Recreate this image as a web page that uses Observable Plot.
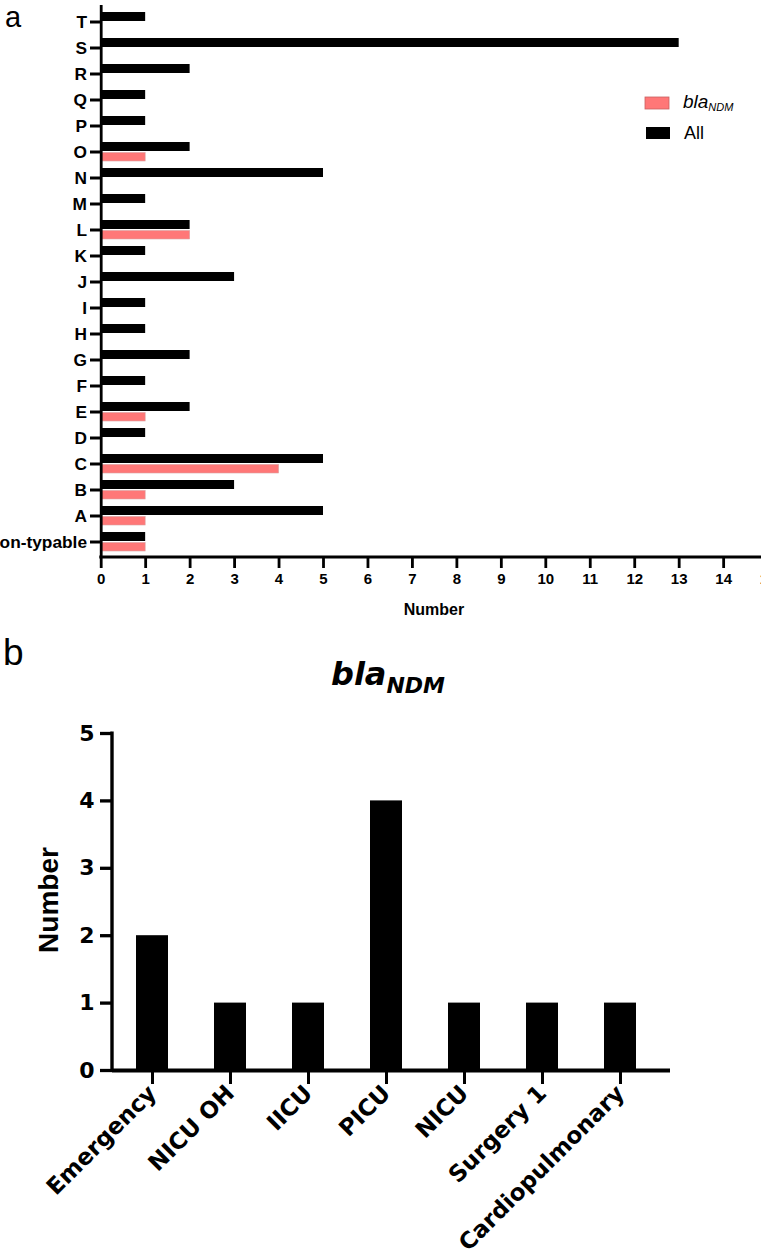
<!DOCTYPE html>
<html>
<head>
<meta charset="utf-8">
<script src="https://cdn.jsdelivr.net/npm/d3@7"></script>
<script src="https://cdn.jsdelivr.net/npm/@observablehq/plot@0.6"></script>
<style>
  html, body { margin: 0; padding: 0; background: #fff; overflow: hidden; }
  body { width: 761px; height: 1254px; position: relative; }
  .abs { position: absolute; left: 0; }
  .abs svg { max-width: none !important; }
  #overlay { position: absolute; left: 0; top: 0; pointer-events: none; }
</style>
</head>
<body>
<div id="chartA" class="abs" style="top:0px;width:790px;"></div>
<div id="chartB" class="abs" style="top:640px;width:761px;"></div>
<svg id="overlay" width="761" height="1254" xmlns="http://www.w3.org/2000/svg"></svg>
<script>
// ---------- Data ----------
const categoriesA = ["T","S","R","Q","P","O","N","M","L","K","J","I","H","G","F","E","D","C","B","A","Non-typable"];
const allCounts   = [1, 13, 2, 1, 1, 2, 5, 1, 2, 1, 3, 1, 1, 2, 1, 2, 1, 5, 3, 5, 1];
const ndmCounts   = [0, 0, 0, 0, 0, 1, 0, 0, 2, 0, 0, 0, 0, 0, 0, 1, 0, 4, 1, 1, 1];
const xTicksA     = [0,1,2,3,4,5,6,7,8,9,10,11,12,13,14,15];

const wards      = ["Emergency","NICU OH","IICU","PICU","NICU","Surgery 1","Cardiopulmonary"];
const wardCounts = [2, 1, 1, 4, 1, 1, 1];
const yTicksB    = [0,1,2,3,4,5];

const seriesNames = ["bla", "All"];
const pink = "#ff7777";

// ---------- Panel a ----------
const rowsAll = categoriesA.map((c, i) => ({cat: c, n: allCounts[i]}));
const rowsNdm = categoriesA.map((c, i) => ({cat: c, n: ndmCounts[i]}));
const sans = '"Liberation Sans", Arial, Helvetica, sans-serif';

const plotA = Plot.plot({
  width: 790, height: 625,
  marginLeft: 100, marginRight: 22, marginTop: 5, marginBottom: 68,
  style: {fontFamily: sans, fontWeight: "bold", color: "#000", background: "transparent", overflow: "visible", maxWidth: "none"},
  x: {domain: [0, 15], range: [100.7, 767.6]},
  y: {domain: categoriesA, paddingInner: 0.278, paddingOuter: 0.139},
  marks: [
    Plot.barX(rowsAll, {x: "n", y: "cat", fill: "#000", insetBottom: 10}),
    Plot.barX(rowsNdm, {x: "n", y: "cat", fill: pink, stroke: "#d9a0a0", strokeWidth: 0.6, insetTop: 10.5}),
    Plot.ruleX([0], {strokeWidth: 2.8}),
    Plot.axisX({ticks: xTicksA, tickFormat: "d", tickSize: 11, tickPadding: 5, strokeWidth: 2.8, fontSize: 15, fontWeight: "bold", label: null}),
    Plot.axisY({tickSize: 10, tickPadding: 3.5, strokeWidth: 3, fontSize: 17.3, fontWeight: "bold", label: null})
  ]
});
plotA.style.maxWidth = "none";
document.getElementById("chartA").appendChild(plotA);
{
  const xs = plotA.scale("x");
  const yBottom = 625 - 68;
  d3.select(plotA).append("line")
    .attr("x1", xs.range[0] - 1.4).attr("x2", 790)
    .attr("y1", yBottom).attr("y2", yBottom)
    .attr("stroke", "#000").attr("stroke-width", 2.8);
}

// ---------- Panel b ----------
const rowsB = wards.map((w, i) => ({ward: w, n: wardCounts[i]}));
const dv = '"DejaVu Sans", Verdana, sans-serif';
const plotB = Plot.plot({
  width: 761, height: 614,
  marginLeft: 112, marginRight: 91, marginTop: 93, marginBottom: 184,
  style: {fontFamily: dv, fontWeight: "bold", color: "#000", background: "transparent", overflow: "visible", maxWidth: "none"},
  x: {domain: wards, range: [112, 661], paddingInner: 0.586, paddingOuter: 0.293},
  y: {domain: [0, 5]},
  marks: [
    Plot.barY(rowsB, {x: "ward", y: "n", fill: "#000"}),
    Plot.ruleY([0], {strokeWidth: 4}),
    Plot.axisY({ticks: yTicksB, tickFormat: "d", tickSize: 12, tickPadding: 6, strokeWidth: 3.3, fontSize: 22, fontWeight: "bold", label: null}),
    Plot.axisX({tickSize: 14, tickPadding: 5, tickRotate: -45, strokeWidth: 3, fontSize: 23, fontWeight: "bold", label: null})
  ]
});
plotB.style.maxWidth = "none";
document.getElementById("chartB").appendChild(plotB);
{
  const ys = plotB.scale("y");
  const yr = ys.range;
  d3.select(plotB).append("line")
    .attr("x1", 112).attr("x2", 112)
    .attr("y1", Math.min(yr[0], yr[1]) - 1.5).attr("y2", Math.max(yr[0], yr[1]) + 2)
    .attr("stroke", "#000").attr("stroke-width", 3.4);
}

// ---------- Annotations: panel letters, legend, titles, axis labels ----------
const ov = d3.select("#overlay");
ov.append("text").attr("x", 5).attr("y", 26.5)
  .attr("font-family", sans).attr("font-size", 29).text("a");

// legend (panel a)
const lg = ov.append("g").attr("font-family", sans);
lg.append("rect").attr("x", 645).attr("y", 97).attr("width", 24).attr("height", 12)
  .attr("fill", pink).attr("stroke", "#c96060").attr("stroke-width", 0.8);
const t1 = lg.append("text").attr("x", 683).attr("y", 108).attr("font-size", 19).attr("font-style", "italic");
t1.append("tspan").text(seriesNames[0]);
t1.append("tspan").attr("font-size", 11).attr("dy", 3).text("NDM");
lg.append("rect").attr("x", 646).attr("y", 127).attr("width", 24).attr("height", 12).attr("fill", "#000");
lg.append("text").attr("x", 684).attr("y", 139).attr("font-size", 18).text(seriesNames[1]);

// x label panel a
ov.append("text").attr("x", 434).attr("y", 615).attr("text-anchor", "middle")
  .attr("font-family", sans).attr("font-weight", "bold").attr("font-size", 16).text("Number");

// panel b letter
ov.append("text").attr("x", 3).attr("y", 665)
  .attr("font-family", sans).attr("font-size", 37).text("b");

// title panel b
const tt = ov.append("text").attr("x", 388).attr("y", 685).attr("text-anchor", "middle")
  .attr("font-family", dv).attr("font-weight", "bold").attr("font-style", "italic");
tt.append("tspan").attr("font-size", 32).text("bla");
tt.append("tspan").attr("font-size", 22).attr("dy", 8).text("NDM");

// y label panel b
ov.append("text").attr("transform", "translate(48,900) rotate(-90)")
  .attr("text-anchor", "middle").attr("dominant-baseline", "central")
  .attr("font-family", sans).attr("font-weight", "bold").attr("font-size", 28).text("Number");
</script>
</body>
</html>
